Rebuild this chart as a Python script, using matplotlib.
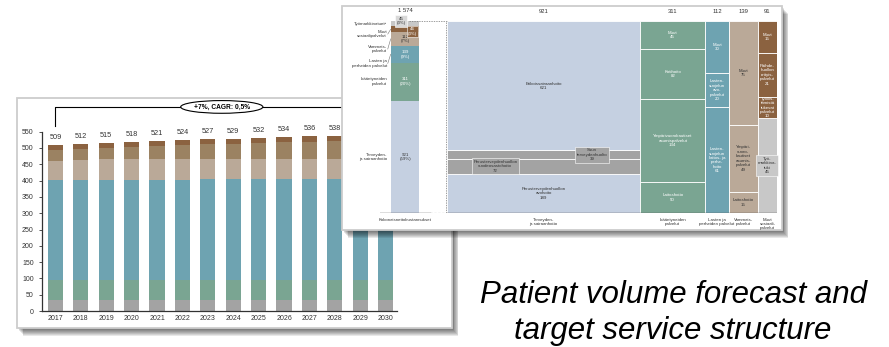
import matplotlib
matplotlib.use("Agg")
import matplotlib.pyplot as plt
from matplotlib.patches import Rectangle

plt.rcParams['font.family'] = ['Liberation Sans', 'DejaVu Sans']

W, H = 889, 347

# forecast 2017-2030 (left slide)
years = list(range(2017, 2031))
totals = [509, 512, 515, 518, 521, 524, 527, 529, 532, 534, 536, 538, 541, 544]
grey_part = [33, 33, 33, 33, 33, 33, 33, 33, 33, 33, 33, 33, 33, 33]
green_part = [62, 62, 62, 62, 62, 62, 62, 62, 62, 62, 62, 62, 62, 62]
teal_part = [307, 307, 307, 307, 307, 308, 309, 310, 310, 310, 310, 311, 311, 312]
sand_part = [59, 61, 63, 63, 64, 63, 62, 61, 61, 61, 61, 61, 62, 62]
taupe_part = [33, 34, 36, 38, 40, 42, 45, 46, 49, 51, 52, 53, 55, 56]
brown_part = [15, 15, 14, 15, 15, 16, 16, 17, 17, 17, 18, 18, 18, 19]
growth_note = "+7%, CAGR: 0,5%"

# target service structure (right slide)
overview_total = "1 574"
overview_names = ["Terveyden-\nja sairaanhoito", "Ikääntyneiden\npalvelut", "Lasten ja\nperheiden palvelut",
                  "Vammais-\npalvelut", "Muut\nsosiaalipalvelut", "Työmarkkinatuet²"]
overview_values = [921, 311, 139, 112, 46, 45]
overview_label = ["921\n(59%)", "311\n(20%)", "139\n(9%)", "112\n(7%)", "46\n(3%)", "45\n(3%)"]

col_names = ["Terveyden-\nja sairaanhoito", "Ikääntyneiden\npalvelut", "Lasten ja\nperheiden palvelut",
             "Vammais-\npalvelut", "Muut\nsosiaali-\npalvelut"]
col_totals = [921, 311, 112, 139, 91]

health_labels = ["Perusterveydenhuollon\navohoito", "Perusterveydenhuollon\nvuodeosastohoito",
                 "Suun\nterveydenhuolto", "Erikoissairaanhoito"]
health_values = [189, 72, 39, 621]
elderly_labels = ["Laitoshoito", "Ympärivuorokautiset\nasumispalvelut", "Kotihoito", "Muut"]
elderly_values = [50, 134, 82, 45]
children_labels = ["Lasten-\nsuojelun\nlaitos- ja\nperhe-\nhoito", "Lasten-\nsuojelun\navo-\npalvelut", "Muut"]
children_values = [61, 20, 30]
disabled_labels = ["Laitoshoito", "Ympäri-\nvuoro-\nkautiset\nasumis-\npalvelut", "Muut"]
disabled_values = [15, 49, 75]
other_labels = ["Työ-\nmarkkina-\ntuki", "Työllis-\ntämistä\ntukevat\npalvelut", "Päihde-\nhuollon\nerityis-\npalvelut", "Muut"]
other_values = [45, 10, 21, 15]

# colours
c_grey = '#a3a3a3'
c_green = '#7aa592'
c_teal = '#6ea3b1'
c_sand = '#baa998'
c_taupe = '#9b8262'
c_brown = '#8b6240'
c_blue = '#c5d0e1'
c_lgrey = '#c8c8c8'
txt = '#333333'

fig = plt.figure(figsize=(W / 100, H / 100), dpi=100)
fig.patch.set_facecolor('white')


def box(x0, y0, x1, y1):
    return [x0 / W, 1 - y1 / H, (x1 - x0) / W, (y1 - y0) / H]


def panel(x0, y0, x1, y1, z):
    for i in range(1, 9):
        fig.patches.append(Rectangle(((x0 + i * 0.8) / W, 1 - (y1 + i) / H), (x1 - x0) / W, (y1 - y0) / H,
                                     transform=fig.transFigure, fc='black', alpha=0.09, ec='none', zorder=z))
    fig.patches.append(Rectangle((x0 / W, 1 - y1 / H), (x1 - x0) / W, (y1 - y0) / H,
                                 transform=fig.transFigure, fc='white', ec='#cdcdcd', lw=1.3, zorder=z + 0.01))


# ---------------- left slide
panel(17, 98, 452, 328, 1)
ax1 = fig.add_axes(box(42, 131.7, 397, 311))
ax1.set_zorder(2)
ax1.patch.set_visible(False)

x = list(range(len(years)))
bottom = [0] * len(years)
for part, col in [(grey_part, c_grey), (green_part, c_green), (teal_part, c_teal),
                  (sand_part, c_sand), (taupe_part, c_taupe), (brown_part, c_brown)]:
    ax1.bar(x, part, bottom=bottom, width=0.6, color=col, lw=0)
    bottom = [b + p for b, p in zip(bottom, part)]

for i, t in enumerate(totals):
    ax1.text(i, t + 12, str(t), ha='center', va='bottom', fontsize=5.3, color=txt)

ax1.plot([0, 0, 14], [566, 626, 626], color='black', lw=0.8, clip_on=False)
ax1.text(6.55, 626, growth_note, ha='center', va='center', fontsize=4.8, fontweight='bold',
         bbox=dict(boxstyle='ellipse,pad=0.15', fc='white', ec='black', lw=0.8))

ax1.set_xlim(-0.53, 13.45)
ax1.set_ylim(0, 550)
ax1.set_yticks(range(0, 551, 50))
ax1.set_xticks(x)
ax1.set_xticklabels([str(y) for y in years])
ax1.tick_params(axis='y', length=2, width=0.6, labelsize=5, colors=txt, pad=4)
ax1.tick_params(axis='x', length=0, labelsize=5, colors=txt, pad=3)
for s in ['top', 'right']:
    ax1.spines[s].set_visible(False)
for s in ['left', 'bottom']:
    ax1.spines[s].set_color('#333333')
    ax1.spines[s].set_linewidth(0.9)

# ---------------- right slide
panel(342, 6, 782, 230, 3)
ax2 = fig.add_axes(box(380, 21, 777, 213))
ax2.set_zorder(4)
ax2.patch.set_visible(False)
ax2.set_xlim(-320, 1574)
ax2.set_ylim(0, 1)
ax2.axis('off')

fs = 3.2
# overview bar
ov_x, ov_w = -200, 134
ov_colors = [c_blue, c_green, c_teal, c_sand, c_brown, c_lgrey]
ov_tcol = [txt, 'white', 'white', txt, 'white', txt]
grand = sum(overview_values)
b = 0
centers = []
for v, c, tc, lab in zip(overview_values, ov_colors, ov_tcol, overview_label):
    h = v / grand
    ax2.bar(ov_x, h, bottom=b, width=ov_w, color=c, lw=0)
    centers.append(b + h / 2)
    if v > 100:
        ax2.text(ov_x, b + h / 2, lab, ha='center', va='center', fontsize=fs, color=tc)
    b += h
# small top segments as call-out boxes
ax2.text(ov_x + 35, centers[4] - 0.01, overview_label[4], ha='center', va='center', fontsize=fs,
         color='white', bbox=dict(boxstyle='square,pad=0.3', fc=c_brown, ec='white', lw=0.4))
ax2.text(ov_x - 20, 1.0, overview_label[5], ha='center', va='center', fontsize=fs, color=txt,
         bbox=dict(boxstyle='square,pad=0.3', fc='#d9d9d9', ec='white', lw=0.4))
ax2.text(ov_x, 1.04, overview_total, ha='center', va='bottom', fontsize=4.2, color=txt)

name_y = [centers[0], centers[1], 0.779, 0.854, 0.932, 0.984]
for nm, ny, cy in zip(overview_names, name_y, centers):
    ax2.text(ov_x - ov_w / 2 - 20, ny, nm, ha='right', va='center', fontsize=fs, color=txt)
    if abs(ny - cy) > 0.01:
        ax2.plot([ov_x - ov_w / 2 - 16, ov_x - ov_w / 2 - 2], [ny, cy], color='#777777', lw=0.4)

ax2.plot([ov_x + 20, 0], [1.0, 1.0], ls=(0, (2, 1.5)), color='#777777', lw=0.5)
ax2.plot([-3, -3], [0, 1.0], ls=(0, (2, 1.5)), color='#777777', lw=0.5)
ax2.plot([ov_x - ov_w / 2 - 60, ov_x + ov_w / 2 + 50], [0, 0], color='#555555', lw=1.0)
ax2.plot([ov_x + ov_w / 2 + 50, 0], [0, 0], ls=(0, (2, 1.5)), color='#555555', lw=0.8)
ax2.plot([0, 1574], [0, 0], color='#555555', lw=1.0)
ax2.text(ov_x, -0.025, "Kokonaisnettokustannukset", ha='center', va='top', fontsize=fs, color=txt)

columns = [
    (health_labels, health_values, [c_blue, c_grey, c_grey, c_blue], [txt] * 4, [0.5, 0.25, 0.75, 0.5]),
    (elderly_labels, elderly_values, [c_green] * 4, ['white'] * 4, [0.5] * 4),
    (children_labels, children_values, [c_teal] * 3, ['white'] * 3, [0.5] * 3),
    (disabled_labels, disabled_values, [c_sand] * 3, [txt] * 3, [0.5] * 3),
    (other_labels, other_values, [c_lgrey, c_brown, c_brown, c_brown], [txt, 'white', 'white', 'white'], [0.5] * 4),
]
boxed = {(0, 1): c_grey, (0, 2): c_grey, (4, 0): c_lgrey}

x0 = 0
for k, (labels, vals, cols, tcols, fx) in enumerate(columns):
    w = col_totals[k]
    s = sum(vals)
    b = 0
    for j, (lab, v, c, tc, f) in enumerate(zip(labels, vals, cols, tcols, fx)):
        h = v / s
        ax2.bar(x0, h, bottom=b, width=w, align='edge', color=c, edgecolor='white', lw=0.6)
        kw = {}
        if (k, j) in boxed:
            kw['bbox'] = dict(boxstyle='square,pad=0.35', fc=boxed[(k, j)], ec='white', lw=0.4)
        ax2.text(x0 + w * f, b + h / 2, f"{lab}\n{v}", ha='center', va='center', fontsize=fs,
                 color=tc, linespacing=1.15, **kw)
        b += h
    ax2.text(x0 + w / 2, 1.035, str(w), ha='center', va='bottom', fontsize=4.2, color=txt)
    ax2.text(x0 + w / 2, -0.025, col_names[k], ha='center', va='top', fontsize=fs, color=txt,
             linespacing=1.1)
    x0 += w

# ---------------- caption
fig.text(673 / W, 1 - 295 / H, "Patient volume forecast and", ha='center', va='center',
         fontsize=22.5, style='italic', color='black', zorder=6)
fig.text(673 / W, 1 - 331 / H, "target service structure", ha='center', va='center',
         fontsize=22.5, style='italic', color='black', zorder=6)

fig.savefig('out.png', dpi=100, facecolor='white')
